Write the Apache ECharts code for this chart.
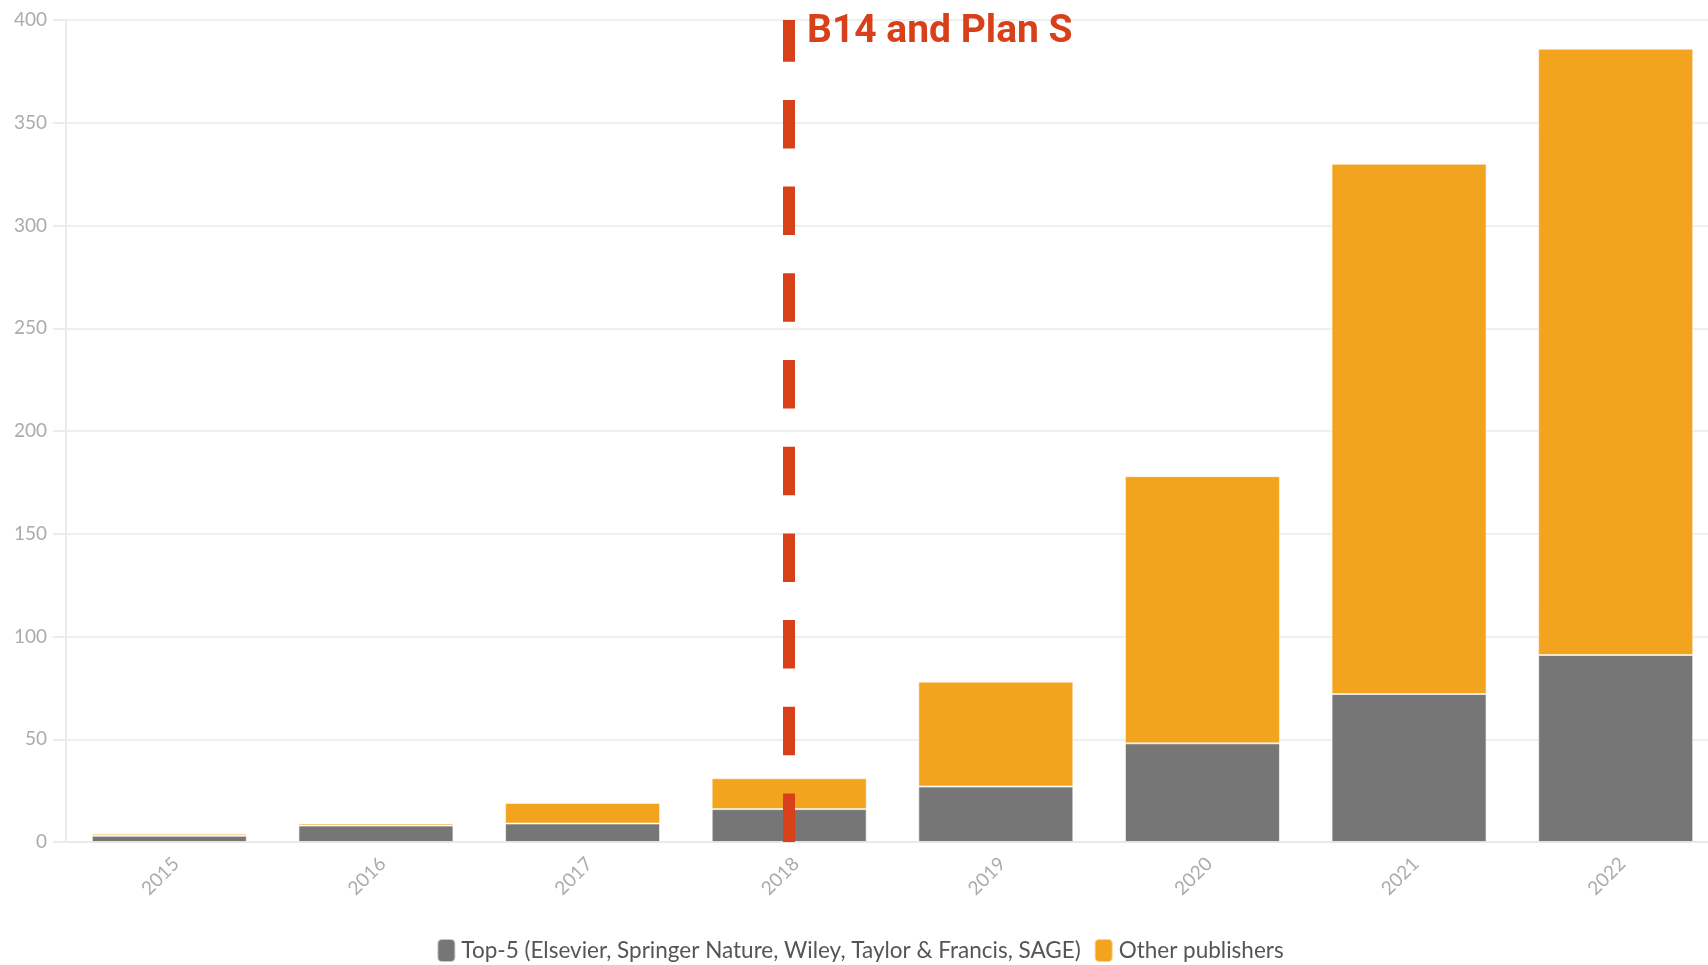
<!DOCTYPE html>
<html>
<head>
<meta charset="utf-8">
<script src="https://cdn.jsdelivr.net/npm/echarts@6/dist/echarts.min.js"></script>
<style>
html,body{margin:0;padding:0;background:#fff;overflow:hidden;width:1708px;height:965px;}
#chart{width:1720px;height:965px;}
</style>
</head>
<body>
<div id="chart"></div>
<script>
const years = ['2015','2016','2017','2018','2019','2020','2021','2022'];
const top5 = [3, 8, 9, 16, 27, 48, 72, 91];
const otherPublishers = [1, 1, 10, 15, 51, 130, 258, 295];
const yTicks = [0, 50, 100, 150, 200, 250, 300, 350, 400];
const seriesNames = ['Top-5 (Elsevier, Springer Nature, Wiley, Taylor & Francis, SAGE)', 'Other publishers'];
const markerYear = '2018';
const markerLabel = 'B14 and Plan S';
const markerTop = 400;

const chart = echarts.init(document.getElementById('chart'), null, {renderer:'canvas'});
const labelFont = 'Lato, "Noto Sans", sans-serif';
chart.setOption({
  animation:false,
  title:{
    text: markerLabel,
    left: 802, top: 8,
    textStyle:{color:'#d8401a', fontFamily:'Roboto', fontWeight:'bold', fontSize:39, lineHeight:39}
  },
  legend:{
    top: 933,
    left: 'center',
    icon:'roundRect',
    itemWidth:18, itemHeight:23, itemGap:13,
    textStyle:{color:'#555', fontFamily:labelFont, fontSize:22.5, padding:[0,0,0,1]},
    data: seriesNames
  },
  grid:{left:66, right:1, top:20, bottom:123, containLabel:false},
  xAxis:{
    type:'category',
    data: years,
    axisLine:{lineStyle:{color:'#e9e9e9', width:2}},
    axisTick:{alignWithLabel:true, length:10, lineStyle:{color:'#e6e6e6', width:2}},
    axisLabel:{rotate:45, margin:12, verticalAlign:'top', color:'#ababab', fontFamily:labelFont, fontSize:19}
  },
  yAxis:{
    type:'value', min:yTicks[0], max:yTicks[yTicks.length-1], interval:50,
    axisLine:{show:true, lineStyle:{color:'#ececec', width:2}},
    axisTick:{show:true, length:13, lineStyle:{color:'#ececec', width:2}},
    splitLine:{lineStyle:{color:'#efefef', width:2}},
    axisLabel:{margin:19, color:'#ababab', fontFamily:labelFont, fontSize:19}
  },
  series:[
    {
      name: seriesNames[0], type:'bar', stack:'total', data: top5,
      barCategoryGap:'25%',
      itemStyle:{color:'#767676', borderColor:'rgba(255,255,255,0.6)', borderWidth:1},
      emphasis:{disabled:true}
    },
    {
      name: seriesNames[1], type:'bar', stack:'total', data: otherPublishers,
      barCategoryGap:'25%',
      itemStyle:{color:'#f2a41e', borderColor:'rgba(255,255,255,0.5)', borderWidth:1},
      emphasis:{disabled:true},
      markLine:{
        silent:true, symbol:['none','none'], animation:false,
        label:{show:false},
        lineStyle:{color:'#d8401a', width:12, type:[48.5,38.2], opacity:1},
        emphasis:{disabled:true},
        data:[[{coord:[markerYear, 0]}, {coord:[markerYear, markerTop]}]]
      }
    }
  ]
});
</script>
</body>
</html>
